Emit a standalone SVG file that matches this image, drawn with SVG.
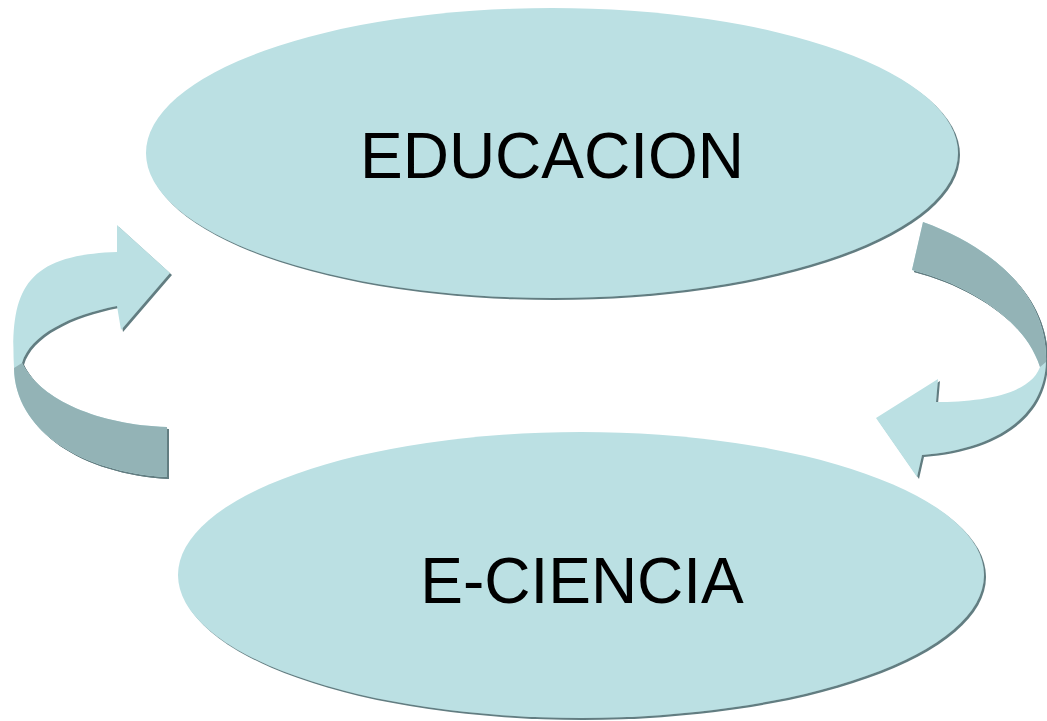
<svg xmlns="http://www.w3.org/2000/svg" width="1047" height="721" viewBox="0 0 1047 721">
<defs>
<filter id="sh" x="-10%" y="-10%" width="120%" height="120%">
<feDropShadow dx="2" dy="2" stdDeviation="0.6" flood-color="#627d81" flood-opacity="1"/>
</filter>
<style>
.light{fill:#bbe0e3;}
.dark{fill:#93b3b6;}
.lbl{font-family:"Liberation Sans",Arial,sans-serif;font-size:64px;fill:#000;text-anchor:middle;}
</style>
</defs>
<rect width="1047" height="721" fill="#ffffff"/>
<g id="connectors">
<g id="arrow-left" filter="url(#sh)">
<path class="light" d="M117,225 L170,273 L121,330 L117,306 C70,315 30,335 22,363 C40,400 100,425 167,427 L167,477 C80,472 15,430 14,368 C10,290 25,255 117,252 Z"/>
<path class="dark" d="M22,363 C40,400 100,425 167,427 L167,477 C80,472 15,430 14,368 Z"/>
</g>
<g id="arrow-right" filter="url(#sh)">
<path class="light" d="M936,402 L938,379 L876,418 L917,477 L922,455 C990,450 1044,420 1046,362 C1048,300 1000,250 923,222 L912,270 C970,285 1025,320 1040,367 C1030,395 980,402 936,402 Z"/>
<path class="dark" d="M923,222 L912,270 C970,285 1025,320 1040,367 L1046,362 C1048,300 1000,250 923,222 Z"/>
</g>
</g>
<g id="node-educacion">
<ellipse class="light" cx="552" cy="153" rx="406" ry="145" filter="url(#sh)"/>
<text class="lbl" x="552" y="178">EDUCACION</text>
</g>
<g id="node-eciencia">
<ellipse class="light" cx="581" cy="575" rx="403" ry="143" filter="url(#sh)"/>
<text class="lbl" x="582" y="603">E-CIENCIA</text>
</g>
</svg>
